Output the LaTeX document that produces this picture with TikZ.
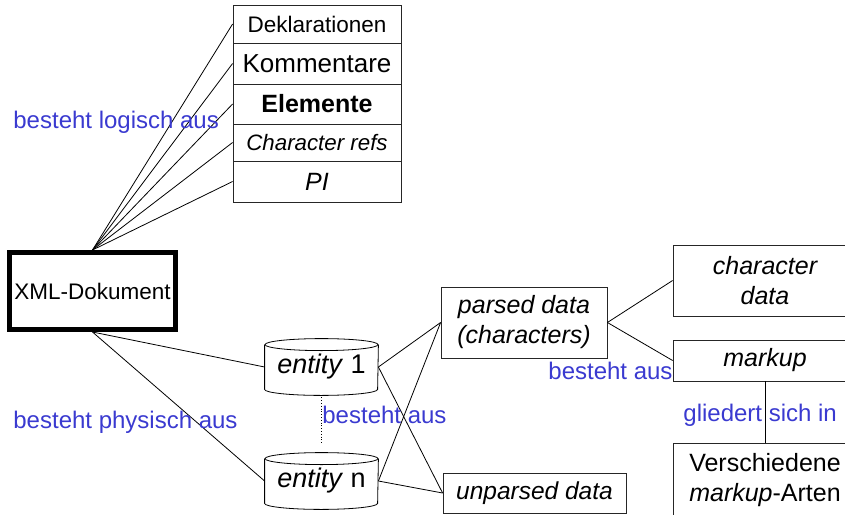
\documentclass[tikz,border=0pt]{standalone}
\usepackage{fontspec}
\setmainfont{Liberation Sans}
\definecolor{labelblue}{RGB}{58,58,208}
\newcommand{\fs}[1]{\fontsize{#1}{30}\selectfont}
% cylinder outline around a (text only) entity node
\newcommand{\drawcyl}[1]{%
  \draw (#1.north west) -- (#1.south west)
    arc[start angle=180, end angle=360, x radius=56.5pt, y radius=6pt]
    -- (#1.north east);
  \draw (#1.north) ellipse[x radius=56.5pt, y radius=6pt];}

\begin{document}
\begin{tikzpicture}[x=1pt, y=-1pt, line width=0.8pt,
    box/.style={draw=black!85, inner sep=0pt, align=center, font=\fs{25}},
    stack/.style={box, minimum width=168pt},
    ent/.style={inner sep=0pt, minimum width=113pt, minimum height=44pt, font=\fs{27}},
    lbl/.style={inner sep=0pt, anchor=west, text=labelblue, font=\fs{24}}]
    \clip (0, 0) rectangle (845, 514);

    % logical structure
    \node [stack, minimum height=38pt, font=\fs{22.5}] (dekl) at (317, 24) {Deklarationen};
    \node [stack, minimum height=41pt, font=\fs{26}] (komm) at (317, 63.5) {Kommentare};
    \node [stack, minimum height=40pt, font=\fs{25}\bfseries] (elem) at (317, 104) {Elemente};
    \node [stack, minimum height=37pt, font=\fs{22.3}\itshape] (charref) at (317, 142.5) {Character refs};
    \node [stack, minimum height=41pt, font=\fs{25}\itshape] (pi) at (317, 181.5) {PI};

    \node [box, line width=5pt, draw=black, minimum width=166pt, minimum height=77pt,
           font=\fs{22.5}] (xmldoc) at (92.5, 291) {XML-Dokument};

    \foreach \part in {dekl, komm, elem, charref, pi}
      \draw (xmldoc.north) -- (\part.west);

    \node [lbl] (logisch) at (13, 122) {besteht logisch aus};

    % physical structure
    \node [ent] (ent1) at (321.5, 367) {\textit{entity} 1};
    \node [ent] (entn) at (321.5, 481) {\textit{entity} n};
    \drawcyl{ent1}
    \drawcyl{entn}

    \draw (xmldoc.south) -- (ent1.west);
    \draw (xmldoc.south) -- (entn.west);
    \draw [dotted, shorten <=8pt, shorten >=14pt] (ent1.south) -- (entn.north);

    \node [lbl] (physisch) at (13, 422) {besteht physisch aus};

    \node [box, minimum width=166pt, minimum height=71pt, font=\fs{25}\itshape]
      (parsed) at (524, 322.5) {parsed data\\(characters)};
    \node [box, minimum width=183pt, minimum height=40pt, font=\fs{24.5}\itshape]
      (unparsed) at (534.5, 493) {unparsed data};

    \foreach \e in {ent1, entn} {
      \draw (\e.east) -- (parsed.west);
      \draw (\e.east) -- (unparsed.west);
    }
    \node [lbl] (aus1) at (322, 415) {besteht aus};

    % parsed data
    \node [box, minimum width=184pt, minimum height=71pt, font=\fs{25}\itshape]
      (chardata) at (765, 280.5) {character\\data};
    \node [box, minimum width=184pt, minimum height=41pt, font=\fs{25}\itshape]
      (markup) at (765, 360.5) {markup};
    \node [box, minimum width=184pt, minimum height=74pt]
      (arten) at (765, 480) {Verschiedene\\\textit{markup}-Arten};

    \draw (parsed.east) -- (chardata.west);
    \draw (parsed.east) -- (markup.west);
    \draw (markup.south) -- (arten.north);

    \node [lbl] (aus2) at (548, 371) {besteht aus};
    \node [lbl] (gliedert) at (683, 415) {gliedert sich in};
\end{tikzpicture}
\end{document}
